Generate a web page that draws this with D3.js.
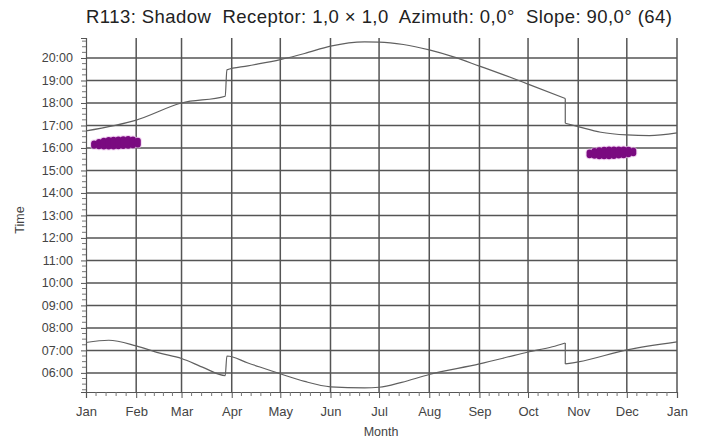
<!DOCTYPE html>
<html><head><meta charset="utf-8">
<script src="https://cdn.jsdelivr.net/npm/d3@7"></script>
<style>
html,body{margin:0;padding:0;background:#fff;}
svg{display:block;}
text{font-family:"Liberation Sans",Arial,sans-serif;fill:#333;}
</style></head>
<body>
<svg id="chart" width="707" height="444"></svg>
<script>
const titleText = "R113: Shadow  Receptor: 1,0 \u00d7 1,0  Azimuth: 0,0\u00b0  Slope: 90,0\u00b0 (64)";
const monthLabels = ["Jan","Feb","Mar","Apr","May","Jun","Jul","Aug","Sep","Oct","Nov","Dec","Jan"];
const monthStartDays = [0,31,59,90,120,151,181,212,243,273,304,334,365];
const hourTicks = [6,7,8,9,10,11,12,13,14,15,16,17,18,19,20];
const hourLabels = ["06:00","07:00","08:00","09:00","10:00","11:00","12:00","13:00","14:00","15:00","16:00","17:00","18:00","19:00","20:00"];

// upper line (sunset) – day of year, hour
const sunsetDays  = [0, 31, 59, 86, 87, 100, 120, 135, 151, 172, 181, 196, 212, 227, 243, 258, 273, 296, 296, 304, 318, 334, 348, 365];
const sunsetHours = [16.76, 17.24, 18.0, 18.3, 19.47, 19.65, 19.93, 20.2, 20.53, 20.72, 20.71, 20.6, 20.36, 20.05, 19.64, 19.25, 18.84, 18.2, 17.1, 16.95, 16.7, 16.58, 16.55, 16.67];

// lower line (sunrise)
const sunriseDays  = [0, 14, 31, 45, 59, 73, 86, 87, 100, 120, 135, 151, 172, 181, 195, 212, 243, 258, 273, 288, 296, 296, 304, 334, 365];
const sunriseHours = [7.35, 7.45, 7.2, 6.89, 6.64, 6.22, 5.88, 6.75, 6.44, 5.96, 5.62, 5.38, 5.33, 5.36, 5.58, 5.93, 6.4, 6.66, 6.93, 7.16, 7.33, 6.4, 6.49, 7.02, 7.38];

// shadow periods (day, start hour, end hour)
const shadowDays  = [5, 8, 11, 14, 17, 20, 23, 26, 29, 32, 311, 314, 317, 320, 323, 326, 329, 332, 335, 338];
const shadowStart = [16.1, 16.08, 16.07, 16.07, 16.07, 16.08, 16.09, 16.1, 16.12, 16.15, 15.68, 15.65, 15.63, 15.63, 15.63, 15.64, 15.66, 15.68, 15.72, 15.77];
const shadowEnd   = [16.2, 16.27, 16.32, 16.35, 16.37, 16.38, 16.39, 16.4, 16.38, 16.32, 15.8, 15.86, 15.9, 15.92, 15.93, 15.93, 15.93, 15.93, 15.92, 15.88];

const svg = d3.select("#chart");
const L = 86, R = 677, T = 38, B = 392;
const x = d3.scaleLinear().domain([0, 365]).range([L, R]);
const y = d3.scaleLinear().domain([5.15, 20.889]).range([B, T]);

// title
svg.append("text").attr("x", 379).attr("y", 23).attr("text-anchor", "middle")
  .style("font-size", "18.5px").style("white-space", "pre").attr("xml:space","preserve")
  .attr("textLength", 586).attr("lengthAdjust", "spacing")
  .style("fill", "#222").text(titleText);

// gridlines
const grid = svg.append("g");
grid.selectAll("line.h").data(hourTicks).join("line")
  .attr("x1", L).attr("x2", R).attr("y1", d => y(d)).attr("y2", d => y(d))
  .attr("stroke", "#555").attr("stroke-width", 1.5);
grid.selectAll("line.v").data(monthStartDays.slice(1)).join("line")
  .attr("x1", d => x(d)).attr("x2", d => x(d)).attr("y1", T).attr("y2", B)
  .attr("stroke", "#555").attr("stroke-width", 1.5);

// minor ticks
const minorX = [];
for (let i = 0; i < monthStartDays.length - 1; i++) {
  const a = monthStartDays[i], b = monthStartDays[i+1];
  for (let k = 1; k < 5; k++) minorX.push(a + (b - a) * k / 5);
}
const minorY = [];
for (let h = 5.25; h <= 20.8; h += 0.25) if (Math.abs(h - Math.round(h)) > 0.01) minorY.push(h);

// axes
const xAxis = d3.axisBottom(x).tickValues(monthStartDays).tickFormat((d, i) => monthLabels[i]).tickSize(6).tickPadding(9);
const gx = svg.append("g").attr("transform", `translate(0,${B})`).call(xAxis);
gx.select(".domain").attr("stroke", "#555").attr("stroke-width", 1.2);
gx.selectAll(".tick line").attr("stroke", "#555");
gx.selectAll("text").style("font-size", "13px").style("fill", "#444").attr("font-family", null);
gx.selectAll(".minor").data(minorX).join("line").attr("class","minor")
  .attr("x1", d => x(d)).attr("x2", d => x(d)).attr("y1", 0).attr("y2", 4).attr("stroke", "#777");

const yAxis = d3.axisLeft(y).tickValues(hourTicks).tickFormat((d, i) => hourLabels[i]).tickSize(5).tickPadding(8);
const gy = svg.append("g").attr("transform", `translate(${L},0)`).call(yAxis);
gy.select(".domain").attr("stroke", "#555").attr("stroke-width", 1.2);
gy.selectAll(".tick line").attr("stroke", "#555");
gy.selectAll("text").style("font-size", "12.5px").style("fill", "#444").attr("font-family", null);
gy.selectAll(".minor").data(minorY).join("line").attr("class","minor")
  .attr("x1", 0).attr("x2", -4).attr("y1", d => y(d)).attr("y2", d => y(d)).attr("stroke", "#777");

// axis titles
svg.append("text").attr("x", 381).attr("y", 436).attr("text-anchor", "middle").style("font-size", "12.5px").style("fill", "#444").text("Month");
svg.append("text").attr("transform", "translate(24,220) rotate(-90)").attr("text-anchor", "middle").style("font-size", "12.5px").style("fill", "#444").text("Time");

// curves: smooth segments split at clock-change jumps
function drawCurve(days, hours) {
  const pts = days.map((d, i) => [d, hours[i]]);
  const segs = [[pts[0]]];
  for (let i = 1; i < pts.length; i++) {
    if (pts[i][0] === pts[i-1][0]) segs.push([pts[i]]);
    else segs[segs.length - 1].push(pts[i]);
  }
  const smooth = d3.line().x(d => x(d[0])).y(d => y(d[1])).curve(d3.curveMonotoneX);
  const g = svg.append("g").attr("fill", "none").attr("stroke", "#606060").attr("stroke-width", 1.2);
  segs.forEach(s => g.append("path").attr("d", smooth(s)));
  for (let i = 1; i < segs.length; i++) {
    const a = segs[i-1][segs[i-1].length - 1], b = segs[i][0];
    g.append("line").attr("x1", x(a[0])).attr("y1", y(a[1])).attr("x2", x(b[0])).attr("y2", y(b[1]));
  }
}
drawCurve(sunsetDays, sunsetHours);
drawCurve(sunriseDays, sunriseHours);

// shadow marks
const sg = svg.append("g");
sg.selectAll("line.halo").data(shadowDays).join("line")
  .attr("x1", d => x(d)).attr("x2", d => x(d))
  .attr("y1", (d, i) => y(shadowStart[i])).attr("y2", (d, i) => y(shadowEnd[i]))
  .attr("stroke", "#e8b8e8").attr("stroke-width", 8).attr("stroke-linecap", "round").attr("opacity", 0.6);
sg.selectAll("line.mark").data(shadowDays).join("line")
  .attr("x1", d => x(d)).attr("x2", d => x(d))
  .attr("y1", (d, i) => y(shadowStart[i])).attr("y2", (d, i) => y(shadowEnd[i]))
  .attr("stroke", "#7a0a80").attr("stroke-width", 6).attr("stroke-linecap", "round");
</script>
</body></html>
